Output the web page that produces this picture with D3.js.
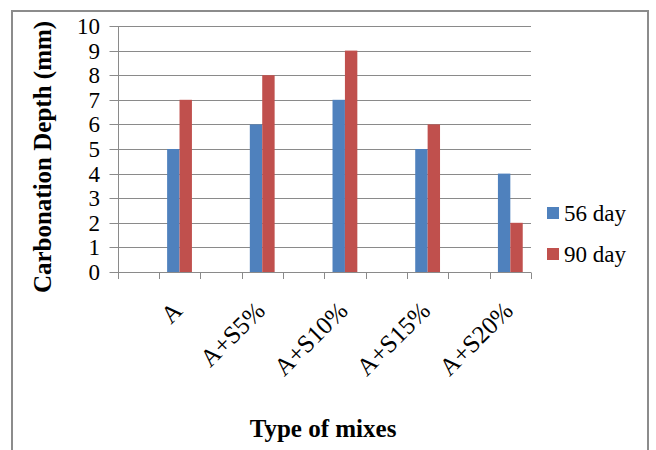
<!DOCTYPE html>
<html>
<head>
<meta charset="utf-8">
<script src="https://cdn.jsdelivr.net/npm/d3@7"></script>
<style>
  html, body { margin: 0; padding: 0; background: #fff; }
  svg { display: block; }
  svg text { font-family: "Liberation Serif", "Times New Roman", serif; fill: #000; }
</style>
</head>
<body>
<svg id="chart" width="656" height="450"></svg>
<script>
// Carbonation depth by mix type, two curing ages
const categories = ["A", "A+S5%", "A+S10%", "A+S15%", "A+S20%"];
const series = ["56 day", "90 day"];
const day56 = [5, 6, 7, 5, 4];
const day90 = [7, 8, 9, 6, 2];
const colors = ["#4F81BD", "#C0504D"];
const yTicks = [0, 1, 2, 3, 4, 5, 6, 7, 8, 9, 10];

const svg = d3.select("#chart");

// outer frame
svg.append("rect")
  .attr("x", 12).attr("y", 11)
  .attr("width", 636).attr("height", 460)
  .attr("fill", "none").attr("stroke", "#8c8c8c").attr("stroke-width", 2);

const plot = { left: 117.5, right: 531, top: 26, bottom: 272 };

// Each category sits in every other slot along the axis (blank slot, then category)
const slots = categories.length * 2;
const x = d3.scaleLinear().domain([0, slots]).range([plot.left, plot.right]);
const y = d3.scaleLinear().domain([0, 10]).range([plot.bottom, plot.top]);
const center = i => 2 * i + 1.5;
const barW = x(0.3) - x(0);

// horizontal gridlines with small left tick marks
const g = svg.append("g");
g.selectAll("line.grid").data(yTicks).join("line")
  .attr("class", "grid")
  .attr("x1", plot.left - 8).attr("x2", plot.right)
  .attr("y1", d => Math.round(y(d)) + 0.5).attr("y2", d => Math.round(y(d)) + 0.5)
  .attr("stroke", "#8a8a8a").attr("stroke-width", 1);

// y tick labels
g.selectAll("text.ytick").data(yTicks).join("text")
  .attr("class", "ytick")
  .attr("x", 100).attr("y", d => y(d))
  .attr("dy", "0.35em")
  .attr("text-anchor", "end")
  .attr("font-size", 23)
  .text(d => d);

// bars
const values = [day56, day90];
values.forEach((vals, s) => {
  svg.append("g").selectAll("rect").data(vals).join("rect")
    .attr("x", (d, i) => x(center(i)) - barW + s * barW)
    .attr("y", d => y(d))
    .attr("width", barW)
    .attr("height", d => y(0) - y(d))
    .attr("fill", colors[s]);
});

// axes lines
svg.append("line")
  .attr("x1", Math.round(plot.left) + 0.5).attr("x2", Math.round(plot.left) + 0.5)
  .attr("y1", plot.top).attr("y2", plot.bottom + 0.5)
  .attr("stroke", "#8a8a8a");
svg.append("g").selectAll("line").data(d3.range(slots + 1)).join("line")
  .attr("x1", d => Math.round(x(d)) + 0.5).attr("x2", d => Math.round(x(d)) + 0.5)
  .attr("y1", Math.round(y(0)) + 0.5).attr("y2", Math.round(y(0)) + 7)
  .attr("stroke", "#8a8a8a");

// rotated category labels
svg.append("g").selectAll("text").data(categories).join("text")
  .attr("text-anchor", "end")
  .attr("font-size", 25)
  .attr("transform", (d, i) => `translate(${x(center(i)) - 2},${plot.bottom + 34}) rotate(-45)`)
  .attr("dy", "0.35em")
  .text(d => d);

// axis titles
svg.append("text")
  .attr("transform", "translate(51,157) rotate(-90)")
  .attr("text-anchor", "middle")
  .attr("font-size", 25).attr("font-weight", "bold")
  .text("Carbonation Depth (mm)");

svg.append("text")
  .attr("x", 323).attr("y", 437)
  .attr("text-anchor", "middle")
  .attr("font-size", 25).attr("font-weight", "bold")
  .text("Type of mixes");

// legend
const legend = svg.append("g").attr("transform", "translate(547,207)");
series.forEach((name, s) => {
  const row = legend.append("g").attr("transform", `translate(0,${s * 41})`);
  row.append("rect").attr("width", 12).attr("height", 12).attr("fill", colors[s]);
  row.append("text").attr("x", 17).attr("y", 6).attr("dy", "0.35em")
    .attr("font-size", 23).text(name);
});
</script>
</body>
</html>
